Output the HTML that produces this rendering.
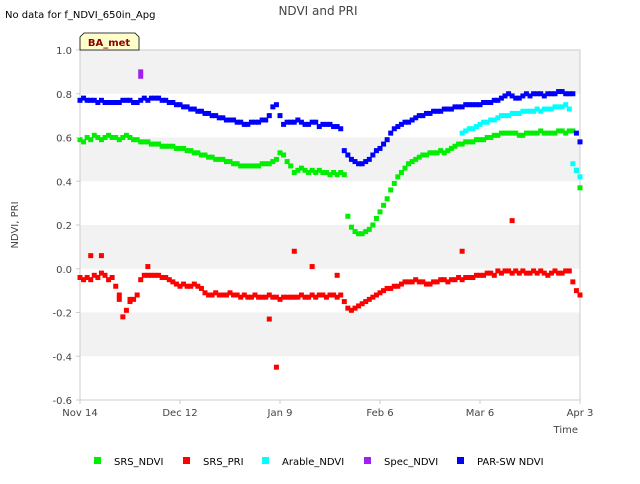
<!DOCTYPE html>
<html><head><meta charset="utf-8"><style>
body{margin:0;background:#fff;font-family:"DejaVu Sans",sans-serif;}
</style></head><body>
<svg id="c" width="640" height="480" xmlns="http://www.w3.org/2000/svg" font-family="DejaVu Sans, sans-serif">
<rect width="640" height="480" fill="#fff"/>
<g id="bg"></g><g id="marks"></g><g id="axes"></g>
<text x="5" y="18" font-size="10" fill="#000">No data for f_NDVI_650in_Apg</text>
<text x="318" y="15" font-size="12" fill="#444" text-anchor="middle">NDVI and PRI</text>
<text x="18" y="225" font-size="10" fill="#444" text-anchor="middle" transform="rotate(-90 18 225)">NDVI, PRI</text>
<text x="578" y="433" font-size="10" fill="#444" text-anchor="end">Time</text>
<g>
<path d="M80,50 L80,37 L84,33 L135,33 L139,37 L139,50 Z" fill="#ffffcc" stroke="#000" stroke-width="0.8"/>
<text x="109" y="46" font-size="10" font-weight="bold" fill="#8b0000" text-anchor="middle">BA_met</text>
</g>
<g id="legend"></g>
</svg>
<script>
const xTickLabels=["Nov 14","Dec 12","Jan 9","Feb 6","Mar 6","Apr 3"];
const xTickDays=[0,28,56,84,112,140];
const yTicks=[1.0,0.8,0.6,0.4,0.2,0.0,-0.2,-0.4,-0.6];
const srsNdvi=[.59,.58,.60,.59,.61,.60,.59,.60,.61,.60,.60,.59,.60,.61,.60,.59,.59,.58,.58,.58,.57,.57,.57,.56,.56,.56,.56,.55,.55,.55,.54,.54,.53,.53,.52,.52,.51,.51,.50,.50,.50,.49,.49,.48,.48,.47,.47,.47,.47,.47,.47,.48,.48,.48,.49,.50,.53,.52,.49,.47,.44,.45,.46,.45,.44,.45,.44,.45,.44,.44,.43,.44,.43,.44,.43,.24,.19,.17,.16,.16,.17,.18,.20,.23,.26,.29,.32,.36,.39,.42,.44,.46,.48,.49,.50,.51,.52,.52,.53,.53,.53,.54,.53,.54,.55,.56,.57,.57,.58,.58,.58,.59,.59,.59,.60,.60,.61,.61,.62,.62,.62,.62,.62,.61,.61,.62,.62,.62,.62,.63,.62,.62,.62,.62,.63,.63,.62,.63,.63,.45,.37];
const parSw=[.77,.78,.77,.77,.77,.76,.77,.76,.76,.76,.76,.76,.77,.77,.77,.76,.76,.77,.78,.77,.78,.78,.78,.77,.77,.76,.76,.75,.75,.74,.74,.73,.73,.72,.72,.71,.71,.70,.70,.69,.69,.68,.68,.68,.67,.67,.66,.66,.67,.67,.67,.68,.68,.70,.74,.75,.70,.66,.67,.67,.67,.68,.67,.66,.66,.67,.67,.65,.66,.66,.66,.65,.65,.64,.54,.52,.50,.49,.48,.48,.49,.50,.52,.54,.55,.57,.59,.62,.64,.65,.66,.67,.67,.68,.69,.70,.70,.71,.71,.72,.72,.72,.73,.73,.73,.74,.74,.74,.75,.75,.75,.75,.75,.76,.76,.76,.77,.77,.78,.79,.80,.79,.78,.78,.79,.80,.79,.80,.80,.80,.79,.80,.80,.80,.81,.81,.80,.80,.80,.62,.58];
const srsPri=[-.04,-.05,-.04,-.05,-.03,-.04,-.02,-.03,-.05,-.04,-.08,-.12,-.22,-.19,-.15,-.14,-.12,-.05,-.03,-.03,-.03,-.03,-.03,-.04,-.04,-.05,-.06,-.07,-.08,-.07,-.08,-.08,-.07,-.08,-.09,-.11,-.12,-.12,-.11,-.12,-.12,-.12,-.11,-.12,-.12,-.13,-.12,-.13,-.13,-.12,-.13,-.13,-.13,-.12,-.13,-.13,-.14,-.13,-.13,-.13,-.13,-.13,-.12,-.13,-.13,-.12,-.13,-.12,-.12,-.13,-.12,-.12,-.13,-.12,-.15,-.18,-.19,-.18,-.17,-.16,-.15,-.14,-.13,-.12,-.11,-.10,-.09,-.09,-.08,-.08,-.07,-.06,-.06,-.06,-.05,-.06,-.06,-.07,-.07,-.06,-.06,-.05,-.05,-.06,-.05,-.05,-.04,-.05,-.04,-.04,-.04,-.03,-.03,-.03,-.02,-.02,-.03,-.01,-.02,-.01,-.01,-.02,-.01,-.02,-.01,-.02,-.02,-.01,-.02,-.01,-.02,-.03,-.02,-.01,-.02,-.02,-.01,-.01,-.06,-.10,-.12];
const priOutlierDays=[55,60,3,6,121,107,53,19,65,72,11,14];
const priOutlierVals=[-0.45,0.08,0.06,0.06,0.22,0.08,-0.23,0.01,0.01,-0.03,-0.14,-0.14];
const arableStart=107;
const arableNdvi=[.62,.63,.64,.64,.65,.66,.67,.67,.68,.68,.69,.70,.70,.70,.71,.71,.71,.72,.72,.72,.72,.73,.72,.73,.73,.73,.74,.74,.74,.75,.73,.48,.45,.42];
const specDays=[17,17];
const specNdvi=[0.88,0.90];

const X0=80,X1=580,Y0=50,Y1=400,D0=0,D1=140,V0=-0.6,V1=1.0;
const xs=d=>X0+(d-D0)/(D1-D0)*(X1-X0);
const ys=v=>Y1-(v-V0)/(V1-V0)*(Y1-Y0);
const NS="http://www.w3.org/2000/svg";
function mk(tag,parent,attrs){const e=document.createElementNS(NS,tag);for(const k in attrs)e.setAttribute(k,attrs[k]);parent.appendChild(e);return e;}
const bg=document.getElementById('bg'),marks=document.getElementById('marks'),axes=document.getElementById('axes'),leg=document.getElementById('legend');
const pa=mk('rect',bg,{x:X0,y:Y0,width:X1-X0,height:Y1-Y0,fill:'#fff'});


for(let i=0;i<yTicks.length-1;i+=2){
  const b=mk('rect',bg,{x:X0,y:ys(yTicks[i]),width:X1-X0,height:ys(yTicks[i+1])-ys(yTicks[i]),fill:'#f2f2f2'});
  
  
}
mk('rect',bg,{x:X0,y:Y0,width:X1-X0,height:Y1-Y0,fill:'none',stroke:'#ccc','stroke-width':1});
yTicks.forEach(v=>{
  const t=mk('text',axes,{x:X0-8,y:ys(v)+4,'font-size':10,fill:'#444','text-anchor':'end'});
  t.textContent=v.toFixed(1);
  
  
  mk('line',axes,{x1:X0-4,x2:X0,y1:ys(v),y2:ys(v),stroke:'#ccc'});
});
xTickDays.forEach((d,i)=>{
  const t=mk('text',axes,{x:xs(d),y:Y1+16,'font-size':10,fill:'#444','text-anchor':'middle'});
  t.textContent=xTickLabels[i];
  
  
  mk('line',axes,{x1:xs(d),x2:xs(d),y1:Y1,y2:Y1+4,stroke:'#ccc'});
});
function pt(d,v,col,name){
  const r=mk('rect',marks,{x:xs(d)-2.5,y:ys(v)-2.5,width:5,height:5,fill:col});
  
  
}
srsNdvi.forEach((v,i)=>pt(i,v,'#00ee00','srs-ndvi-point'));
srsPri.forEach((v,i)=>pt(i,v,'#ff0000','srs-pri-point'));
priOutlierDays.forEach((d,i)=>pt(d,priOutlierVals[i],'#ff0000','srs-pri-point'));
arableNdvi.forEach((v,i)=>pt(arableStart+i,v,'#00ffff','arable-ndvi-point'));
specDays.forEach((d,i)=>pt(d,specNdvi[i],'#a020f0','spec-ndvi-point'));
parSw.forEach((v,i)=>pt(i,v,'#0000ff','par-sw-ndvi-point'));
const legItems=[["SRS_NDVI","#00ee00",98],["SRS_PRI","#ff0000",187],["Arable_NDVI","#00ffff",266],["Spec_NDVI","#a020f0",368],["PAR-SW NDVI","#0000ff",461]];
legItems.forEach(([n,c,x])=>{
  const g=mk('g',leg,{});
  
  
  mk('rect',g,{x:x-4,y:457,width:7,height:7,fill:c});
  const t=mk('text',g,{x:x+16,y:465,'font-size':10,fill:'#000'});
  t.textContent=n;
});
</script>
</body></html>
